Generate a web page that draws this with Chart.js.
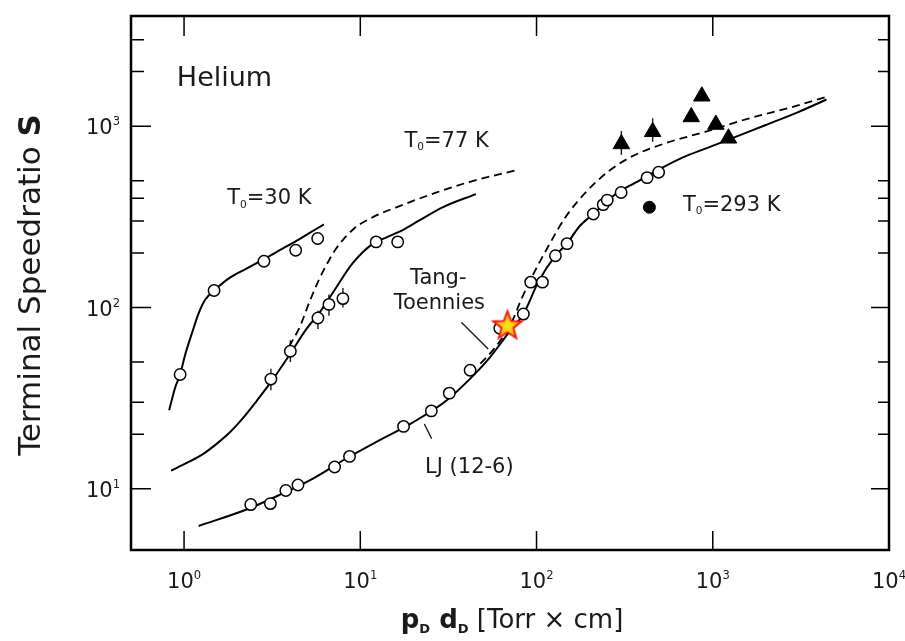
<!DOCTYPE html>
<html>
<head>
<meta charset="utf-8">
<script src="https://cdn.jsdelivr.net/npm/chart.js@4.4.1/dist/chart.umd.min.js"></script>
<style>
  body { margin: 0; background: #fff; }
  #wrap { width: 905px; height: 641px; }
</style>
</head>
<body>
<div id="wrap"><canvas id="chart" width="905" height="641"></canvas></div>
<script>
// Helium terminal speed ratio vs source pressure x nozzle diameter (log-log)
// values, [pD*dD, S]

// T0 = 30 K
const he30Curve = [[0.823, 27.1], [0.889, 36], [0.949, 42.6], [1.013, 54.6], [1.106, 71.6], [1.205, 92],
  [1.315, 110], [1.497, 125], [1.82, 146], [2.26, 164], [2.84, 185], [3.49, 207], [4.34, 233], [5.16, 258], [6.22, 287]]
const he30Pts = [[0.95, 42.7], [1.48, 124], [2.84, 180], [4.30, 207], [5.73, 240]]

// T0 = 77 K
const he77Solid = [[0.844, 12.6], [1.035, 13.9], [1.286, 15.6], [1.53, 17.7], [1.82, 20.5], [2.17, 24.7], [2.58, 30.5],
  [3.13, 39.1], [4.01, 55.7], [4.95, 76.2], [5.88, 93.9], [7.0, 121], [9.08, 176], [11.8, 225], [14, 243],
  [17.4, 267], [21.6, 302], [29.3, 357], [45.3, 422]]
const he77Dash = [[3.95, 61], [4.53, 78], [5.16, 108], [5.88, 145], [6.6, 180], [7.31, 212], [9.2, 272], [11.8, 315],
  [17.4, 368], [26.9, 430], [41.5, 492], [79.6, 577]]
const he77Pts = [[3.11, 40.3], [4.01, 57.4], [5.75, 87.5], [6.64, 104], [7.97, 112], [12.3, 230], [16.3, 230]]
const he77Err = [[35, 46], [50, 66], [76, 96], [90, 118], [100, 128], null, null]

// T0 = 293 K
const ljCurve = [[1.21, 6.24], [2.26, 7.69], [3.49, 9.27], [5.39, 11.4], [8.33, 14.7], [12.8, 18.5], [19.8, 23.2],
  [30.6, 30.5], [41.5, 40], [53.8, 52.4], [69.9, 73.1], [84.2, 92], [103, 140], [128, 193], [149, 225], [174, 278],
  [210, 328], [281, 422], [364, 488], [515, 589], [698, 681], [1032, 788], [1282, 857], [1982, 1012], [3055, 1196], [4418, 1403]]
const ttCurve = [[48, 49], [57.5, 59.3], [71.5, 81], [82, 111], [95, 150], [118, 222], [146, 315], [190, 431],
  [257, 565], [348, 681], [538, 805], [906, 931], [1593, 1101], [2801, 1273], [4520, 1461]]
const he293Pts = [[2.39, 8.19], [3.09, 8.29], [3.78, 9.79], [4.43, 10.5], [7.15, 13.2], [8.69, 15.1], [17.6, 22.1],
  [25.3, 26.9], [32, 33.7], [42, 45.1], [61.9, 76.9], [84.2, 92], [92.7, 138], [108, 138], [128, 193], [149, 225],
  [210, 328], [239, 369], [252, 391], [302, 431], [424, 520], [493, 557]]
const he293Dot = [[437, 357]]
const he293Tri = [[303, 798], [456, 931], [755, 1124], [867, 1462], [1041, 1021], [1228, 857]]
const he293TriErr = [[695, 940], [819, 1105], null, null, null, null]
const starPt = [[68.4, 79.6]]

// axes
const xTicks = [1, 10, 100, 1000, 10000]
const xTickExp = ['0', '1', '2', '3', '4']
const yTicks = [10, 100, 1000]
const yTickExp = ['1', '2', '3']
const yMinor = [20, 30, 50, 200, 300, 400, 500, 2000, 3000]

const FONT = '"DejaVu Sans", Verdana, sans-serif'
const INK = '#1a1a1a'

const pts = a => a.map(([x, y]) => ({ x, y }))

// star marker as an image point style
function makeStar() {
  const c = document.createElement('canvas')
  c.width = 34; c.height = 34
  const g = c.getContext('2d')
  const R = 15, r = 6.3, cx = 17, cy = 17.5
  g.beginPath()
  for (let i = 0; i < 10; i++) {
    const rad = i % 2 ? r : R
    const a = -Math.PI / 2 + i * Math.PI / 5
    g.lineTo(cx + rad * Math.cos(a), cy + rad * Math.sin(a))
  }
  g.closePath()
  const grad = g.createRadialGradient(cx, cy, 1, cx, cy, R)
  grad.addColorStop(0, '#ffe81a')
  grad.addColorStop(0.5, '#fbb812')
  grad.addColorStop(1, '#f0700e')
  g.fillStyle = grad
  g.fill()
  g.lineWidth = 1.8
  g.strokeStyle = '#e8131b'
  g.stroke()
  return c
}

// text with bold / sub / superscript parts: [text, style]
function rich(ctx, parts, x, y, size, align) {
  let w = 0
  const segs = parts.map(([t, st = '']) => {
    const small = st.includes('s') || st.includes('p')
    const fs = small ? size * (st.includes('p') ? 0.55 : 0.5) : size
    const font = (st.includes('b') ? 'bold ' : '') + fs + 'px ' + FONT
    ctx.font = font
    const sw = ctx.measureText(t).width
    w += sw
    const dy = st.includes('s') ? size * 0.18 : st.includes('p') ? -size * 0.42 : 0
    return { t, font, sw, dy }
  })
  let cx = align === 'center' ? x - w / 2 : align === 'right' ? x - w : x
  segs.forEach(s => { ctx.font = s.font; ctx.fillText(s.t, cx, y + s.dy); cx += s.sw })
}

const notes = [
  { parts: [['Helium']], x: 0.91, y: 1671, size: 27, align: 'left' },
  { parts: [['T'], ['0', 's'], ['=30 K']], x: 1.757, y: 372, size: 21, align: 'left' },
  { parts: [['T'], ['0', 's'], ['=77 K']], x: 17.8, y: 772, size: 21, align: 'left' },
  { parts: [['T'], ['0', 's'], ['=293 K']], x: 677, y: 342, size: 21, align: 'left' },
  { parts: [['Tang-']], x: 27.7, y: 134, size: 21, align: 'center' },
  { parts: [['Toennies']], x: 28.1, y: 97.9, size: 21, align: 'center' },
  { parts: [['LJ (12-6)']], x: 23.3, y: 12.3, size: 21, align: 'left' }
]
// label pointer lines, data coordinates
const pointers = [
  [[37.4, 82.9], [53.2, 59.1]],
  [[23.1, 22.8], [25.4, 18.9]]
]

const errorBars = {
  id: 'errorBars',
  beforeDatasetsDraw(chart) {
    const { ctx, scales: { x, y } } = chart
    ctx.save()
    ctx.strokeStyle = INK
    ctx.lineWidth = 1.4
    const draw = (list, errs) => list.forEach(([px, py], i) => {
      if (!errs[i]) return
      const xp = x.getPixelForValue(px)
      ctx.beginPath()
      ctx.moveTo(xp, y.getPixelForValue(errs[i][0]))
      ctx.lineTo(xp, y.getPixelForValue(errs[i][1]))
      ctx.stroke()
    })
    draw(he77Pts, he77Err)
    draw(he293Tri, he293TriErr)
    ctx.restore()
  }
}

const frame = {
  id: 'frame',
  afterDraw(chart) {
    const { ctx, chartArea: a, scales: { x, y } } = chart
    ctx.save()
    ctx.strokeStyle = '#000'
    // inward ticks
    ctx.lineWidth = 1.5
    ctx.beginPath()
    xTicks.forEach(v => {
      const p = x.getPixelForValue(v)
      ctx.moveTo(p, a.bottom); ctx.lineTo(p, a.bottom - 19)
      ctx.moveTo(p, a.top); ctx.lineTo(p, a.top + 20)
    })
    yTicks.forEach(v => {
      const p = y.getPixelForValue(v)
      ctx.moveTo(a.left, p); ctx.lineTo(a.left + 20, p)
      ctx.moveTo(a.right, p); ctx.lineTo(a.right - 18, p)
    })
    yMinor.forEach(v => {
      const p = y.getPixelForValue(v)
      ctx.moveTo(a.left, p); ctx.lineTo(a.left + 13, p)
      ctx.moveTo(a.right, p); ctx.lineTo(a.right - 11, p)
    })
    ctx.stroke()
    ctx.lineWidth = 2.5
    ctx.strokeRect(a.left, a.top, a.right - a.left, a.bottom - a.top)

    // tick labels
    ctx.fillStyle = INK
    ctx.textBaseline = 'alphabetic'
    xTicks.forEach((v, i) => rich(ctx, [['10'], [xTickExp[i], 'p']], x.getPixelForValue(v), a.bottom + 38, 21, 'center'))
    yTicks.forEach((v, i) => rich(ctx, [['10'], [yTickExp[i], 'p']], a.left - 11, y.getPixelForValue(v) + 8, 21, 'right'))

    // axis titles
    rich(ctx, [['p', 'b'], ['D', 'bs'], [' d', 'b'], ['D', 'bs'], [' [Torr \u00d7 cm]']], 512, 628, 26, 'center')
    ctx.save()
    ctx.translate(40, 285)
    ctx.rotate(-Math.PI / 2)
    rich(ctx, [['Terminal Speedratio '], ['S', 'b']], 0, 0, 31, 'center')
    ctx.restore()

    // annotations
    notes.forEach(n => rich(ctx, n.parts, x.getPixelForValue(n.x), y.getPixelForValue(n.y), n.size, n.align))
    ctx.lineWidth = 1.4
    ctx.strokeStyle = INK
    ctx.beginPath()
    pointers.forEach(([p0, p1]) => {
      ctx.moveTo(x.getPixelForValue(p0[0]), y.getPixelForValue(p0[1]))
      ctx.lineTo(x.getPixelForValue(p1[0]), y.getPixelForValue(p1[1]))
    })
    ctx.stroke()
    ctx.restore()
  }
}

const line = (data, dashed) => ({
  data: pts(data),
  showLine: true,
  pointRadius: 0,
  borderColor: '#000',
  borderWidth: dashed ? 1.8 : 2,
  borderDash: dashed ? [8, 5] : [],
  cubicInterpolationMode: 'monotone',
  fill: false
})
const openCircles = data => ({
  data: pts(data),
  pointRadius: 5.7,
  pointBackgroundColor: '#fff',
  pointBorderColor: '#000',
  pointBorderWidth: 1.5
})

new Chart(document.getElementById('chart'), {
  type: 'scatter',
  data: {
    datasets: [
      { data: pts(starPt), pointStyle: makeStar(), pointRadius: 15 },
      { data: pts(he293Tri), pointStyle: 'triangle', pointRadius: 9.5, pointBackgroundColor: '#000', pointBorderColor: '#000', pointBorderWidth: 1 },
      { data: pts(he293Dot), pointRadius: 6, pointBackgroundColor: '#000', pointBorderColor: '#000', pointBorderWidth: 1 },
      openCircles(he293Pts),
      openCircles(he77Pts),
      openCircles(he30Pts),
      line(he30Curve),
      line(he77Solid),
      line(he77Dash, true),
      line(ljCurve),
      line(ttCurve, true)
    ]
  },
  options: {
    responsive: false,
    animation: false,
    layout: { padding: { left: 131, right: 14, top: 11, bottom: 91 } },
    plugins: { legend: { display: false }, tooltip: { enabled: false } },
    scales: {
      x: { type: 'logarithmic', min: 0.5, max: 10000, display: false },
      y: { type: 'logarithmic', min: 4.6, max: 4050, display: false }
    }
  },
  plugins: [errorBars, frame]
})
</script>
</body>
</html>
